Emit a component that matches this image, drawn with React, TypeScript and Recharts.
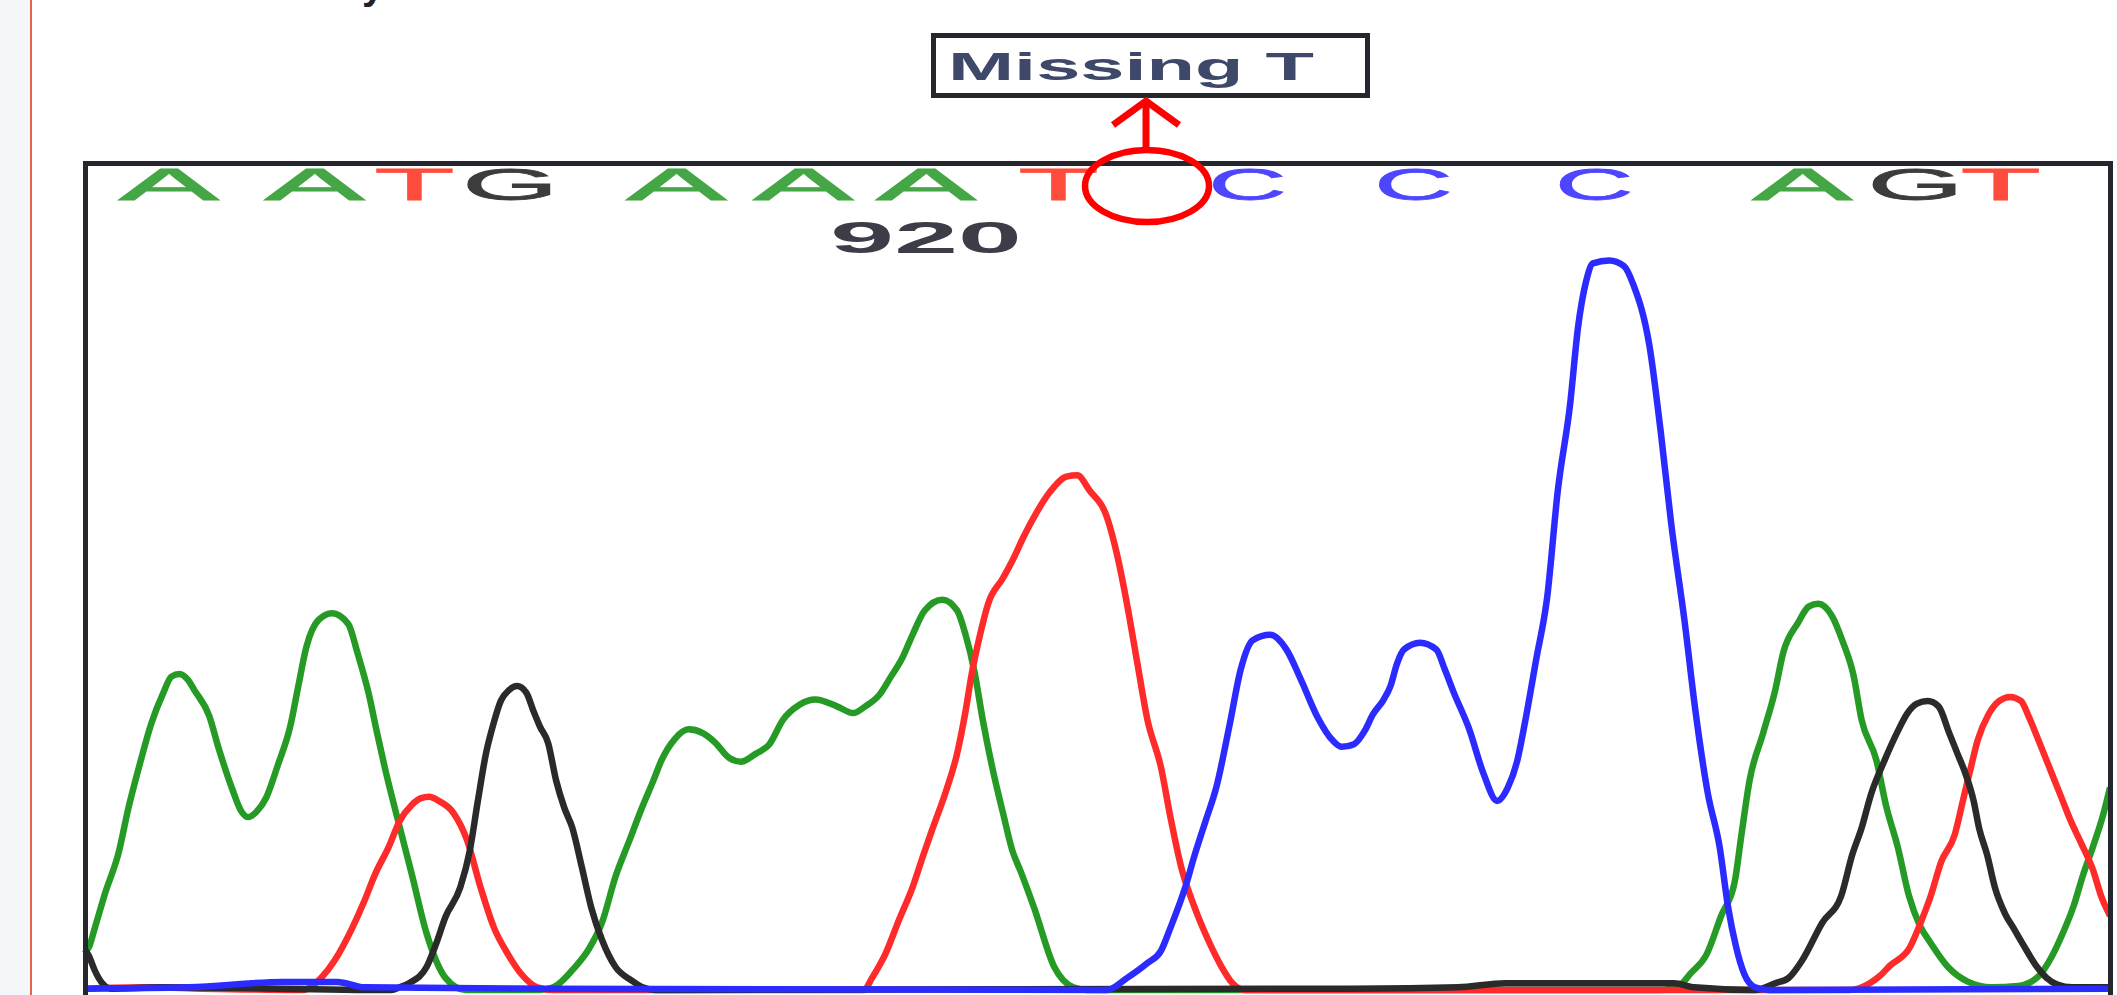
import React from 'react';
import { LineChart, Line, XAxis, YAxis, ReferenceDot } from 'recharts';

// trace values: [scan position, signal height]
const traceA: [number, number][] = [
  [63, 28], [66, 32], [70, 45], [78, 72], [88, 102], [95, 134], [103, 165], [112, 197], [121, 220], [127, 232],
  [133, 234], [139, 230], [144, 222], [155, 203], [162, 179], [172, 149], [179, 132], [184, 128], [190, 132],
  [197, 142], [206, 167], [215, 195], [221, 225], [227, 254], [236, 274], [246, 279], [258, 271], [265, 249],
  [273, 220], [279, 192], [285, 165], [296, 121], [305, 86], [316, 42], [330, 9], [345, 0], [400, 0], [410, 2],
  [426, 17], [436, 30], [446, 50], [456, 84], [466, 110], [476, 136], [484, 155], [490, 170], [500, 186],
  [510, 193], [521, 190], [530, 183], [540, 172], [549, 169], [560, 175], [570, 182], [580, 200], [592, 211],
  [604, 215], [620, 210], [632, 205], [641, 210], [651, 218], [660, 232], [668, 245], [676, 263], [685, 281],
  [698, 289], [709, 281], [715, 264], [722, 235], [728, 200], [735, 165], [743, 131], [750, 103], [756, 88],
  [766, 61], [781, 17], [795, 2], [805, 0], [1230, 0], [1245, 4], [1252, 12], [1264, 26], [1275, 55], [1285, 80],
  [1290, 115], [1296, 155], [1306, 190], [1315, 222], [1321, 250], [1332, 272], [1340, 284], [1347, 286],
  [1357, 277], [1365, 258], [1373, 233], [1379, 200], [1390, 170], [1397, 137], [1406, 105], [1414, 70],
  [1422, 48], [1430, 35], [1443, 17], [1458, 6], [1475, 2], [1495, 3], [1510, 10], [1520, 25], [1528, 42],
  [1536, 62], [1543, 85], [1550, 105], [1558, 130], [1563, 150],
];

const traceT: [number, number][] = [
  [63, 1], [110, 2], [150, 1], [225, 0], [230, 2], [238, 9], [248, 22], [261, 46], [270, 66], [278, 86],
  [288, 106], [296, 125], [305, 137], [312, 142], [318, 143], [325, 140], [336, 131], [346, 111], [356, 76],
  [366, 46], [376, 27], [386, 12], [398, 2], [410, 0], [640, 0], [646, 9], [656, 27], [666, 52], [676, 76],
  [684, 100], [691, 120], [700, 145], [709, 175], [715, 205], [720, 235], [726, 263], [732, 286], [743, 305],
  [750, 318], [758, 335], [767, 352], [778, 369], [790, 380], [798, 381], [807, 370], [820, 350], [828, 320],
  [835, 285], [842, 245], [850, 200], [860, 165], [867, 128], [875, 91], [885, 61], [895, 37], [905, 17],
  [913, 5], [922, 0], [1370, 0], [1385, 5], [1392, 10], [1400, 18], [1415, 32], [1422, 48], [1430, 69],
  [1438, 95], [1448, 115], [1454, 140], [1460, 165], [1465, 185], [1473, 204], [1481, 214], [1489, 217],
  [1497, 214], [1503, 202], [1510, 185], [1518, 165], [1526, 145], [1534, 125], [1541, 110], [1550, 90],
  [1557, 68], [1563, 55],
];

const traceG: [number, number][] = [
  [63, 30], [66, 25], [70, 15], [75, 6], [82, 1], [120, 2], [290, 0], [296, 2], [303, 5], [316, 17], [323, 34],
  [330, 54], [341, 76], [348, 103], [354, 140], [360, 175], [365, 195], [371, 214], [377, 222], [383, 225],
  [390, 220], [395, 207], [400, 195], [406, 183], [412, 155], [418, 135], [424, 120], [431, 91], [438, 61],
  [446, 37], [456, 17], [468, 7], [476, 2], [485, 0], [1000, 1], [1080, 2], [1115, 5], [1240, 5], [1255, 2],
  [1300, 0], [1315, 5], [1325, 9], [1335, 22], [1350, 50], [1364, 70], [1372, 100], [1379, 120], [1386, 145],
  [1396, 170], [1406, 192], [1413, 205], [1420, 212], [1428, 214], [1436, 210], [1444, 190], [1450, 175],
  [1456, 160], [1462, 140], [1466, 120], [1472, 100], [1478, 75], [1485, 57], [1492, 45], [1499, 33],
  [1509, 17], [1516, 9], [1524, 4], [1535, 2], [1563, 2],
];

const traceC: [number, number][] = [
  [63, 1], [140, 2], [210, 6], [250, 6], [270, 2], [400, 1], [820, 0], [835, 9], [850, 20], [860, 29],
  [867, 46], [878, 76], [885, 100], [893, 125], [901, 150], [911, 197], [919, 237], [928, 259], [941, 263],
  [953, 252], [964, 229], [976, 202], [987, 185], [994, 180], [1003, 182], [1011, 192], [1017, 204],
  [1025, 215], [1030, 225], [1035, 242], [1040, 252], [1052, 257], [1064, 252], [1070, 238], [1077, 220],
  [1088, 194], [1099, 160], [1109, 140], [1117, 150], [1124, 170], [1130, 200], [1138, 245], [1146, 290],
  [1154, 370], [1163, 433], [1169, 491], [1175, 525], [1180, 538], [1192, 540], [1203, 536], [1210, 522],
  [1222, 476], [1230, 415], [1238, 345], [1248, 272], [1256, 206], [1265, 146], [1274, 105], [1280, 62],
  [1286, 32], [1292, 12], [1300, 2], [1310, 0], [1563, 1],
];

// base calls printed along the top
const baseCalls = ['A', 'A', 'T', 'G', 'A', 'A', 'A', 'T', 'C', 'C', 'C', 'A', 'G', 'T'];
const basePositions = [125, 233, 307, 378, 501, 595, 686, 784, 924, 1047, 1181, 1335, 1419, 1482];
const positionLabel = { text: '920', at: 686 };

const BASE_COLOR: Record<string, string> = { A: '#45a645', T: '#ff4c3c', G: '#3c3c3c', C: '#4d45ff' };
const BASE_WIDTH: Record<string, number> = { A: 100, T: 80, G: 96, C: 78 };
const NATURAL: Record<string, number> = { A: 29.3, T: 26.9, G: 34.2, C: 31.8 };

const rows = (pts: [number, number][]) => pts.map(([x, v]) => ({ x, v }));

const BaseLetter = (letter: string) => (props: any) => {
  const { cx, cy } = props;
  const sx = BASE_WIDTH[letter] / NATURAL[letter];
  return (
    <text
      x={0}
      y={0}
      textAnchor="middle"
      fontSize={44}
      fill={BASE_COLOR[letter]}
      stroke={BASE_COLOR[letter]}
      strokeWidth={0.8}
      fontFamily='"Liberation Sans", Arial, sans-serif'
      transform={`translate(${cx} ${cy}) scale(${sx} 1)`}
    >
      {letter}
    </text>
  );
};

const PosLabel = (props: any) => {
  const { cx, cy } = props;
  return (
    <text
      x={0}
      y={0}
      textAnchor="middle"
      fontSize={45}
      fontWeight="bold"
      fill="#3d3d48"
      fontFamily='"Liberation Sans", Arial, sans-serif'
      transform={`translate(${cx} ${cy}) scale(2.55 1)`}
    >
      {positionLabel.text}
    </text>
  );
};

const lineProps = { type: 'monotone' as const, strokeWidth: 6.5, dot: false, isAnimationActive: false, strokeLinejoin: 'round' as const };

export default function App() {
  return (
    <div
      style={{
        position: 'absolute',
        left: 0,
        top: 0,
        width: 2117,
        height: 995,
        overflow: 'hidden',
        background: '#ffffff',
      }}
    >
      <div style={{ position: 'absolute', left: 0, top: 0, width: 30, height: 995, background: '#f3f7f9' }} />
      <div style={{ position: 'absolute', left: 30, top: 0, width: 2, height: 995, background: '#e2644f' }} />

      <div style={{ position: 'absolute', left: 0, top: 0 }}>
        <LineChart width={2117} height={995} margin={{ top: 162, right: 7, bottom: 5, left: 85 }}>
          <XAxis type="number" dataKey="x" domain={[63, 1563]} hide />
          <YAxis type="number" domain={[0, 613]} hide />
          <Line data={rows(traceA)} dataKey="v" stroke="#259a25" {...lineProps} />
          <Line data={rows(traceT)} dataKey="v" stroke="#ff2a2a" {...lineProps} />
          <Line data={rows(traceG)} dataKey="v" stroke="#2a2a2a" {...lineProps} />
          <Line data={rows(traceC)} dataKey="v" stroke="#2b2bff" {...lineProps} />
          {baseCalls.map((b, i) => (
            <ReferenceDot key={i} x={basePositions[i]} y={585} r={0} ifOverflow="visible" shape={BaseLetter(b)} />
          ))}
          <ReferenceDot x={positionLabel.at} y={545.5} r={0} ifOverflow="visible" shape={PosLabel} />
        </LineChart>
      </div>

      <div
        style={{
          position: 'absolute',
          left: 83,
          top: 161,
          width: 2030,
          height: 900,
          border: '5px solid #26262e',
          boxSizing: 'border-box',
        }}
      />

      <svg width={2117} height={995} style={{ position: 'absolute', left: 0, top: 0 }}>
        <text x={362} y={-1} fontSize={40} fontWeight="bold" fill="#22232b" fontFamily='"Liberation Sans", Arial, sans-serif'>
          y
        </text>
        <rect x={933.5} y={35.5} width={434} height={60} fill="#ffffff" stroke="#26262e" strokeWidth={5} />
        <text
          x={948}
          y={80}
          fontSize={39}
          fontWeight="bold"
          fill="#3e4868"
          textLength={366}
          lengthAdjust="spacingAndGlyphs"
          fontFamily='"Liberation Sans", Arial, sans-serif'
        >
          Missing T
        </text>
        <line x1={1146} y1={147} x2={1146} y2={101} stroke="#ff0000" strokeWidth={7} />
        <polyline points="1113,125 1146,101 1179,125" fill="none" stroke="#ff0000" strokeWidth={7} />
        <ellipse cx={1147} cy={186} rx={62} ry={36} fill="none" stroke="#ff0000" strokeWidth={6.5} />
      </svg>
    </div>
  );
}
